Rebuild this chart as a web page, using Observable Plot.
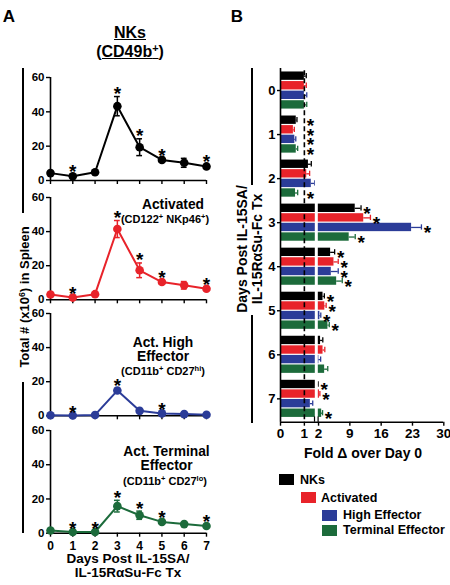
<!DOCTYPE html>
<html><head><meta charset="utf-8">
<script src="https://cdn.jsdelivr.net/npm/d3@7"></script>
<script src="https://cdn.jsdelivr.net/npm/@observablehq/plot@0.6"></script>
<style>
body{margin:0;background:#fff;}
#root{position:relative;width:450px;height:585px;overflow:hidden;font-family:"Liberation Sans",Arial,sans-serif;font-weight:bold;color:#000;}
.abs{position:absolute;white-space:nowrap;line-height:1;}
.c{transform:translate(-50%,-50%);text-align:center;}
sup{font-size:68%;vertical-align:baseline;position:relative;top:-0.5em;}
svg{overflow:visible;}
.vl{position:absolute;background:#000;width:2px;}
.sq{position:absolute;width:15px;height:11px;}
</style></head><body><div id="root"></div>
<script>
// ---------- data ----------
const days = [0, 1, 2, 3, 4, 5, 6, 7];
const seriesNames = ["NKs", "Activated", "High Effector", "Terminal Effector"];
const seriesColors = ["#000000", "#e8232a", "#2b3c98", "#1c6b3b"];

// Panel A: total # (x10^6) in spleen
const nkCount   = [4.3, 2.5, 4.8, 43.3, 19.4, 12.0, 10.3, 8.2];
const nkErr     = [0.6, 1.0, 0.6, 5.6, 4.9, 1.0, 2.6, 1.0];
const nkSig     = [0, 1, 0, 1, 1, 1, 0, 1];
const actCount  = [3.1, 1.3, 3.3, 41.5, 17.3, 10.4, 8.5, 6.5];
const actErr    = [0.5, 0.5, 0.5, 5.0, 4.3, 1.0, 2.2, 1.0];
const actSig    = [0, 1, 0, 1, 1, 1, 0, 1];
const hiCount   = [0.3, 0.2, 0.5, 14.8, 2.9, 1.4, 1.0, 0.6];
const hiErr     = [0.1, 0.1, 0.1, 1.2, 0.5, 0.3, 0.2, 0.1];
const hiSig     = [0, 1, 0, 1, 0, 1, 0, 0];
const termCount = [1.6, 0.7, 0.7, 15.8, 10.5, 6.6, 5.3, 4.2];
const termErr   = [0.3, 0.2, 0.2, 3.4, 2.4, 0.8, 0.5, 0.6];
const termSig   = [0, 1, 1, 1, 1, 1, 0, 1];
const yTicksA = [0, 20, 40, 60];

// Panel B: fold change over day 0
const nkFold    = [1.00, 0.66, 1.17, 10.2, 4.70, 3.00, 2.45, 1.75];
const nkFoldErr = [0.08, 0.03, 0.12, 1.30, 0.90, 0.30, 0.50, 0.15];
const nkFoldSig = [0, 1, 0, 1, 1, 1, 0, 1];
const actFold    = [1.00, 0.54, 1.10, 12.1, 5.45, 3.40, 3.00, 2.20];
const actFoldErr = [0.08, 0.04, 0.12, 1.50, 0.95, 0.30, 0.40, 0.10];
const actFoldSig = [0, 1, 0, 1, 1, 1, 0, 1];
const hiFold    = [1.00, 0.60, 1.29, 22.8, 4.85, 2.30, 2.07, 1.25];
const hiFoldErr = [0.10, 0.04, 0.14, 2.20, 1.55, 0.20, 0.40, 0.10];
const hiFoldSig = [0, 1, 0, 1, 1, 1, 0, 0];
const termFold    = [1.00, 0.66, 0.63, 8.85, 6.05, 4.10, 3.36, 2.70];
const termFoldErr = [0.10, 0.06, 0.09, 1.35, 1.25, 0.30, 0.70, 0.20];
const termFoldSig = [0, 1, 1, 1, 1, 1, 0, 1];
const xTicksB = [0, 1, 2, 9, 16, 23, 30];
const axisBreak = 1.5;

// ---------- layout helpers ----------
const root = document.getElementById("root");
const FONT = "'Liberation Sans', Arial, sans-serif";
function place(el, left, top) {
  el.style.position = "absolute"; el.style.left = left + "px"; el.style.top = top + "px";
  root.appendChild(el);
}
function label(html, x, y, size, extra = "") {
  const d = document.createElement("div");
  d.className = "abs c";
  d.innerHTML = html;
  d.style.cssText += `left:${x}px;top:${y}px;font-size:${size}px;${extra}`;
  root.appendChild(d);
  return d;
}
function vline(x, y1, y2) {
  const d = document.createElement("div");
  d.className = "vl";
  d.style.left = (x - 1) + "px"; d.style.top = y1 + "px"; d.style.height = (y2 - y1) + "px";
  root.appendChild(d);
}

// ---------- Panel A ----------
function panelA(vals, errs, sig, color, y60, y0, last) {
  const data = days.map((d, i) => ({day: d, v: vals[i], e: errs[i], s: sig[i]}));
  const mt = 10, mb = last ? 24 : 6;
  const h = (y0 - y60) + mt + mb;
  const svg = Plot.plot({
    width: 230, height: h,
    marginLeft: 50, marginRight: 24, marginTop: mt, marginBottom: mb,
    x: {domain: [0, 7]},
    y: {domain: [0, 60]},
    style: {fontFamily: FONT, fontWeight: "bold", fontSize: "12px", background: "transparent", overflow: "visible"},
    marks: [
      Plot.ruleX([0], {strokeWidth: 1.6}),
      Plot.ruleY([0], {strokeWidth: 1.6}),
      Plot.axisY({ticks: yTicksA, tickSize: 4, tickPadding: 2, fontSize: 11.5, label: null, strokeWidth: 1.4}),
      Plot.axisX({ticks: days, tickSize: 4, tickPadding: 4, fontSize: 12, label: null, strokeWidth: 1.4,
                  tickFormat: last ? (d => String(d)) : (() => "")}),
      Plot.ruleX(data, {x: "day", y1: d => Math.max(0, d.v - d.e), y2: d => d.v + d.e, stroke: color, strokeWidth: 1.5}),
      Plot.ruleY(data, {y: d => d.v + d.e, x1: d => d.day - 0.13, x2: d => d.day + 0.13, stroke: color, strokeWidth: 1.5}),
      Plot.ruleY(data, {y: d => Math.max(0, d.v - d.e), x1: d => d.day - 0.13, x2: d => d.day + 0.13, stroke: color, strokeWidth: 1.5}),
      Plot.line(data, {x: "day", y: "v", stroke: color, strokeWidth: 2}),
      Plot.dot(data, {x: "day", y: "v", r: 4.3, fill: color, stroke: "none"}),
      Plot.text(data.filter(d => d.s), {x: "day", y: d => d.v + d.e, text: () => "*", lineAnchor: "bottom",
                dy: 3.5, fontSize: 19, fontWeight: "bold", fill: "#000"})
    ]
  });
  place(svg, 0, y60 - mt);
}
panelA(nkCount, nkErr, nkSig, seriesColors[0], 77, 180, false);
panelA(actCount, actErr, actSig, seriesColors[1], 197, 299.3, false);
panelA(hiCount, hiErr, hiSig, seriesColors[2], 312.7, 415, false);
panelA(termCount, termErr, termSig, seriesColors[3], 430, 532.7, true);

// ---------- Panel B ----------
const folds = [nkFold, actFold, hiFold, termFold];
const foldErrs = [nkFoldErr, actFoldErr, hiFoldErr, termFoldErr];
const foldSigs = [nkFoldSig, actFoldSig, hiFoldSig, termFoldSig];
const bData = [];
days.forEach((d, i) => seriesNames.forEach((s, k) => bData.push({
  day: d, k, series: s, v: folds[k][i], e: foldErrs[k][i], s: foldSigs[k][i], color: seriesColors[k]
})));
const pitch = 0.2175, bh = 0.19;
const yc = d => d.day + (d.k - 1.5) * pitch;
// broken axis: segment 0..1.5 is stretched relative to 1.5..30
const squeeze = 0.1874;
const brokenX = v => v <= axisBreak ? v : axisBreak + (v - axisBreak) * squeeze;
const unbrokenX = t => t <= axisBreak ? t : axisBreak + (t - axisBreak) / squeeze;
const svgB = Plot.plot({
  width: 220, height: 390,
  marginLeft: 50, marginRight: 7, marginTop: 13, marginBottom: 23.3,
  x: {transform: brokenX, domain: [0, brokenX(30)], range: [50, 213.3]},
  y: {domain: [-0.5, 7.53], range: [13, 366.7]},
  color: {type: "identity"},
  style: {fontFamily: FONT, fontWeight: "bold", fontSize: "13px", background: "transparent", overflow: "visible"},
  marks: [
    Plot.rect(bData, {x1: () => 0, x2: "v", y1: d => yc(d) - bh / 2, y2: d => yc(d) + bh / 2, fill: d => d.color}),
    Plot.ruleY(bData, {y: yc, x1: "v", x2: d => d.v + d.e, stroke: d => d.color, strokeWidth: 1.3}),
    Plot.ruleX(bData, {x: d => d.v + d.e, y1: d => yc(d) - 0.06, y2: d => yc(d) + 0.06, stroke: d => d.color, strokeWidth: 1.3}),
    Plot.ruleX([axisBreak], {y1: () => -0.5, y2: () => 7.46, stroke: "white", strokeWidth: 3}),
    Plot.ruleX([1], {y1: () => -0.45, y2: () => 7.53, stroke: "black", strokeWidth: 1.6, strokeDasharray: "5,3"}),
    Plot.ruleX([axisBreak], {y1: () => 7.41, y2: () => 7.53, dx: -1.8, stroke: "black", strokeWidth: 1.2}),
    Plot.ruleX([axisBreak], {y1: () => 7.41, y2: () => 7.53, dx: 1.8, stroke: "black", strokeWidth: 1.2}),
    Plot.ruleX([0], {strokeWidth: 1.6}),
    Plot.ruleY([7.53], {strokeWidth: 1.6}),
    Plot.axisY({ticks: days, tickSize: 3, tickPadding: 2, fontSize: 13, label: null, strokeWidth: 1.4}),
    Plot.axisX({ticks: xTicksB.map(brokenX), tickFormat: t => String(Math.round(unbrokenX(t))),
                tickSize: 4, tickPadding: 2.5, fontSize: 13.5, label: null, strokeWidth: 1.4}),
    Plot.text(bData.filter(d => d.s), {x: d => Math.max(d.v + d.e, 1), y: yc, text: () => "*", textAnchor: "middle",
              dx: 6, lineAnchor: "bottom", dy: 12, fontSize: 19, fontWeight: "bold", fill: "#000"})
  ]
});
place(svgB, 230, 55);

// ---------- text overlays ----------
label("A", 9, 8, 17, "transform:translate(-50%,0);");
label("B", 237, 8, 17, "transform:translate(-50%,0);");
label("NKs", 130, 33, 16, "text-decoration:underline;");
label("(CD49b<sup>+</sup>)", 130, 52, 16, "text-decoration:underline;");

label("Activated", 173, 205, 13.8);
label("(CD122<sup>+</sup> NKp46<sup>+</sup>)", 165, 219, 11);
label("Act. High", 163, 343, 13.8);
label("Effector", 163, 357, 13.8);
label("(CD11b<sup>+</sup> CD27<sup>hi</sup>)", 163, 371, 11);
label("Act. Terminal", 166.5, 452, 13.8);
label("Effector", 166.5, 466, 13.8);
label("(CD11b<sup>+</sup> CD27<sup>lo</sup>)", 165, 481, 11);

label("Days Post IL-15SA/", 128, 559, 13.5);
label("IL-15R&alpha;Su-Fc Tx", 128, 573, 13.5);

label("Total # (x10<sup>6</sup>) in Spleen", 24, 297, 13, "transform:translate(-50%,-50%) rotate(-90deg);");
vline(23, 68, 213);
vline(23, 382, 533);

label("Days Post IL-15SA/<br>IL-15R&alpha;Su-Fc Tx", 249.5, 248.5, 14,
      "transform:translate(-50%,-50%) rotate(-90deg);line-height:15px;");
vline(252, 68, 185);
vline(252, 315, 423);

label("Fold &Delta; over Day 0", 363, 453, 14);

// legend
const legendPos = [[279, 474, 300], [301, 492, 321], [322, 509.5, 343], [322, 524.5, 343]];
seriesNames.forEach((name, k) => {
  const sq = document.createElement("div");
  sq.className = "sq";
  sq.style.background = seriesColors[k];
  sq.style.left = legendPos[k][0] + "px"; sq.style.top = legendPos[k][1] + "px";
  root.appendChild(sq);
  const t = document.createElement("div");
  t.className = "abs";
  t.textContent = name;
  t.style.cssText += `left:${legendPos[k][2]}px;top:${legendPos[k][1] + 5.5}px;font-size:12.5px;transform:translate(0,-50%);`;
  root.appendChild(t);
});
</script></body></html>
